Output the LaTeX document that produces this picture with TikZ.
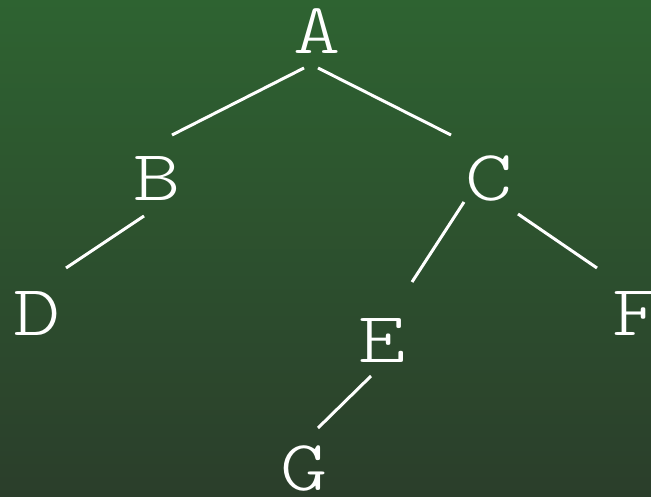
\documentclass[tikz,border=0pt]{standalone}
\newcommand{\lbltext}[1]{\scalebox{1.25}[1]{#1}}
\begin{document}
\begin{tikzpicture}[x=1pt,y=-1pt,
  lbl/.style={anchor=base,inner sep=0pt,text=white,font=\fontsize{72}{72}\fontseries{l}\ttfamily\selectfont},
  edge/.style={draw=white,line width=3pt}]
\useasboundingbox (0,0) rectangle (651,497);
\fill[top color={rgb,255:red,46;green,99;blue,49},bottom color={rgb,255:red,43;green,62;blue,43}] (0,0) rectangle (651,497);
\node[lbl] (A) at (317,54) {\lbltext{A}};
\node[lbl] (B) at (157,201) {\lbltext{B}};
\node[lbl] (C) at (489,201) {\lbltext{C}};
\node[lbl] (D) at (37,335) {\lbltext{D}};
\node[lbl] (E) at (382,362) {\lbltext{E}};
\node[lbl] (F) at (636,335) {\lbltext{F}};
\node[lbl] (G) at (304,490) {\lbltext{G}};
\draw[edge] ([shift={(-13,14)}]A.base) -- ([shift={(15,-66)}]B.base);
\draw[edge] ([shift={(1,14)}]A.base) -- ([shift={(-38,-66)}]C.base);
\draw[edge] ([shift={(-13,15)}]B.base) -- ([shift={(29,-67)}]D.base);
\draw[edge] ([shift={(-25,1)}]C.base) -- ([shift={(30,-80)}]E.base);
\draw[edge] ([shift={(29,13)}]C.base) -- ([shift={(-39,-67)}]F.base);
\draw[edge] ([shift={(-11,14)}]E.base) -- ([shift={(14,-62)}]G.base);
\end{tikzpicture}
\end{document}
